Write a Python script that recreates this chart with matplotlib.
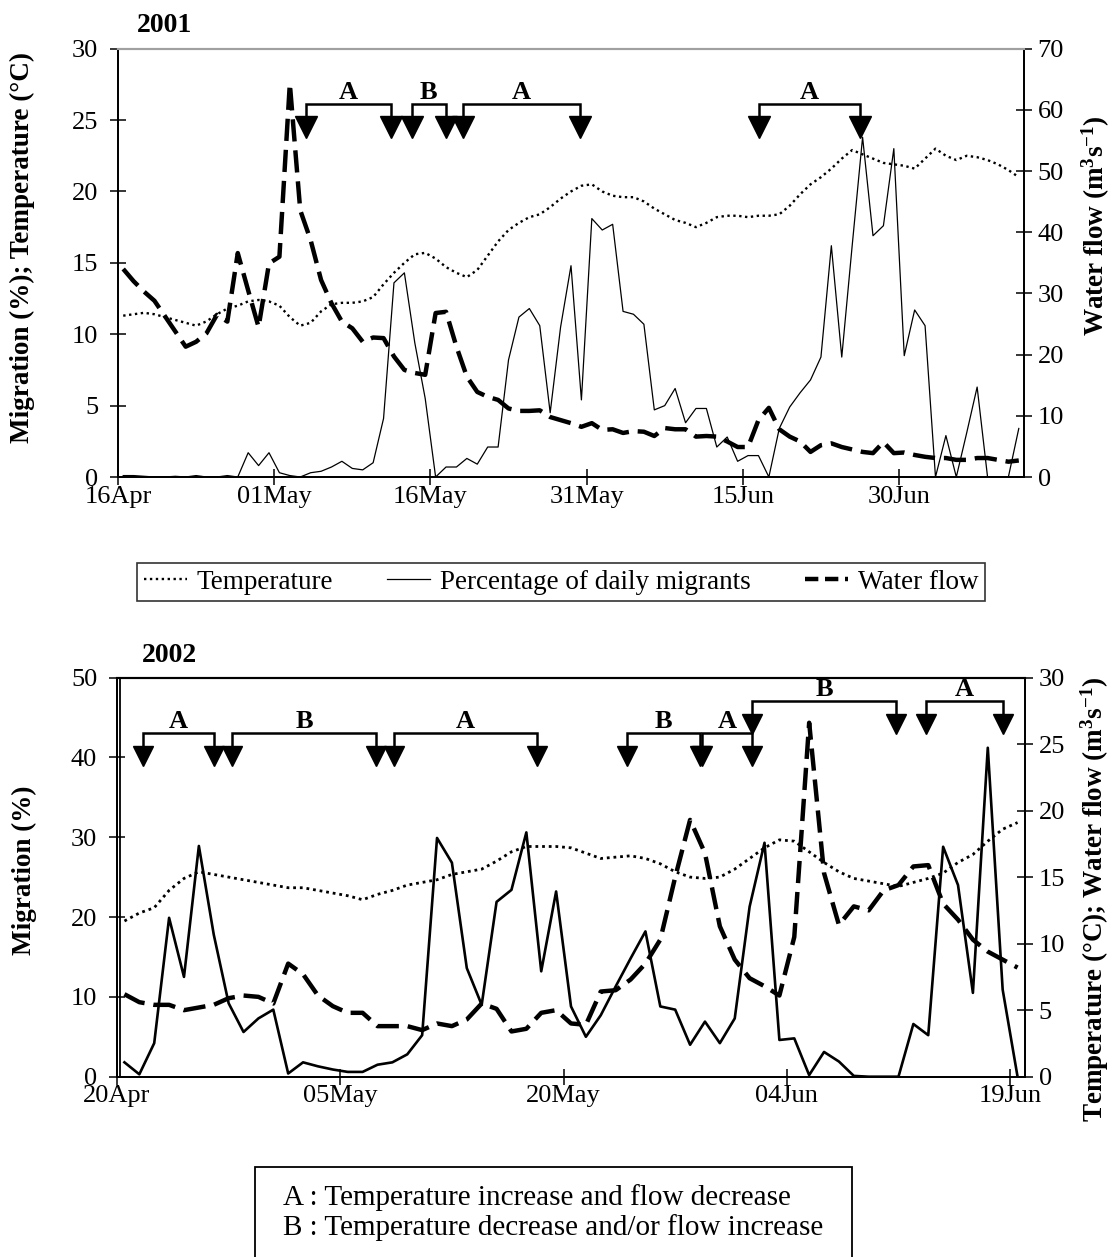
import matplotlib
matplotlib.use("Agg")
import matplotlib.pyplot as plt
from matplotlib.lines import Line2D
from matplotlib.patches import Rectangle
import numpy as np

plt.rcParams['font.family'] = ['Liberation Serif', 'DejaVu Serif']
plt.rcParams['mathtext.fontset'] = 'custom'
plt.rcParams['mathtext.rm'] = 'Liberation Serif'
plt.rcParams['mathtext.bf'] = 'Liberation Serif:bold'
plt.rcParams['mathtext.it'] = 'Liberation Serif:italic'

# ---------------- 2001 (daily, 16 Apr - 11 Jul) ----------------
temp_2001 = [11.3, 11.4, 11.5, 11.4, 11.2, 11.0, 10.8, 10.6, 10.9, 11.4,
             11.8, 12.0, 12.3, 12.4, 12.3, 12.0, 11.2, 10.6, 10.8, 11.6,
             12.1, 12.2, 12.2, 12.3, 12.6, 13.5, 14.3, 15.0, 15.6, 15.7,
             15.3, 14.7, 14.3, 14.0, 14.5, 15.5, 16.5, 17.3, 17.8, 18.2,
             18.4, 18.9, 19.5, 20.0, 20.4, 20.5, 20.0, 19.7, 19.6, 19.6,
             19.3, 18.8, 18.4, 18.0, 17.8, 17.5, 17.8, 18.2, 18.3, 18.3,
             18.2, 18.3, 18.3, 18.4, 19.0, 19.8, 20.5, 21.0, 21.6, 22.3,
             22.9, 22.6, 22.3, 22.0, 21.9, 21.8, 21.6, 22.3, 23.0, 22.5,
             22.2, 22.5, 22.4, 22.2, 21.9, 21.5, 21.0]
migr_2001 = [0.1, 0.1, 0.05, 0.0, 0.0, 0.05, 0.0, 0.1, 0.0, 0.0,
             0.1, 0.0, 1.7, 0.8, 1.7, 0.3, 0.1, 0.0, 0.3, 0.4,
             0.7, 1.1, 0.6, 0.5, 1.0, 4.1, 13.6, 14.3, 9.4, 5.5,
             0.0, 0.7, 0.7, 1.3, 0.9, 2.1, 2.1, 8.2, 11.2, 11.8,
             10.6, 4.5, 10.5, 14.8, 5.4, 18.1, 17.3, 17.7, 11.6, 11.4,
             10.7, 4.7, 5.0, 6.2, 3.8, 4.8, 4.8, 2.1, 2.8, 1.1,
             1.5, 1.5, 0.0, 3.4, 4.9, 5.9, 6.8, 8.4, 16.2, 8.4,
             16.2, 23.8, 16.9, 17.6, 23.0, 8.5, 11.7, 10.6, 0.0, 2.9,
             0.0, 3.1, 6.3, 0.0, 0.0, 0.0, 3.4]
flow_2001 = [34.0, 32.0, 30.3, 28.8, 26.3, 23.8, 21.3, 22.1, 23.5, 26.5,
             25.4, 36.6, 30.5, 24.5, 34.9, 36.0, 64.3, 43.6, 38.7, 32.2,
             28.4, 25.4, 24.3, 22.1, 22.8, 22.7, 19.7, 17.5, 17.0, 16.7,
             26.8, 27.0, 21.3, 16.4, 13.9, 13.1, 12.6, 11.2, 10.8, 10.8,
             10.9, 9.8, 9.3, 8.8, 8.2, 8.8, 7.7, 7.8, 7.2, 7.5,
             7.4, 6.7, 8.0, 7.8, 7.8, 6.6, 6.7, 6.6, 5.8, 4.9,
             4.9, 9.3, 11.3, 7.8, 6.6, 5.8, 4.1, 5.2, 5.5, 4.9,
             4.5, 4.1, 3.9, 5.7, 3.9, 4.0, 3.6, 3.3, 3.1, 3.1,
             2.8, 2.8, 3.1, 3.1, 2.8, 2.5, 2.7]
tick_pos_2001 = [0, 15, 30, 45, 60, 75]
tick_lab_2001 = ["16Apr", "01May", "16May", "31May", "15Jun", "30Jun"]
per_lab_2001 = ["A", "B", "A", "A"]
per_start_2001 = [18.1, 28.2, 33.1, 61.55]
per_end_2001 = [26.2, 31.45, 44.4, 71.25]

# ---------------- 2002 (daily, 20 Apr - 19 Jun) ----------------
temp_2002 = [11.7, 12.3, 12.7, 14.0, 14.9, 15.4, 15.2, 15.0, 14.8, 14.6,
             14.4, 14.2, 14.2, 14.0, 13.8, 13.6, 13.3, 13.7, 14.0, 14.4,
             14.6, 14.8, 15.2, 15.4, 15.6, 16.2, 16.9, 17.3, 17.3, 17.3,
             17.2, 16.8, 16.4, 16.5, 16.6, 16.4, 16.0, 15.4, 15.0, 14.9,
             15.0, 15.6, 16.4, 17.2, 17.8, 17.7, 16.9, 16.1, 15.4, 14.9,
             14.7, 14.5, 14.3, 14.6, 14.9, 15.3, 16.1, 16.7, 17.7, 18.6, 19.1]
migr_2002 = [1.8, 0.3, 4.2, 19.9, 12.5, 28.9, 17.8, 9.2, 5.6, 7.3,
             8.4, 0.4, 1.8, 1.3, 0.9, 0.6, 0.6, 1.5, 1.8, 2.8,
             5.2, 29.9, 26.8, 13.6, 9.0, 21.9, 23.4, 30.6, 13.2, 23.2,
             8.8, 5.0, 7.7, 11.3, 14.8, 18.2, 8.8, 8.4, 4.0, 6.9,
             4.2, 7.3, 21.3, 29.3, 4.6, 4.8, 0.2, 3.1, 1.9, 0.1,
             0.0, 0.0, 0.0, 6.6, 5.2, 28.8, 24.0, 10.5, 41.2, 10.9, 0.0]
flow_2002 = [6.2, 5.6, 5.4, 5.4, 5.0, 5.2, 5.4, 5.9, 6.1, 6.0,
             5.5, 8.5, 7.7, 6.1, 5.3, 4.8, 4.8, 3.8, 3.8, 3.8,
             3.5, 4.0, 3.8, 4.3, 5.5, 5.1, 3.4, 3.6, 4.8, 5.0,
             4.0, 3.9, 6.4, 6.5, 7.3, 8.5, 10.3, 15.0, 19.3, 16.8,
             11.3, 8.8, 7.4, 6.8, 6.1, 10.5, 26.6, 15.3, 11.4, 12.8,
             12.5, 14.0, 14.4, 15.8, 15.9, 13.0, 11.8, 10.3, 9.4, 8.8, 8.2]
tick_pos_2002 = [0, 15, 30, 45, 60]
tick_lab_2002 = ["20Apr", "05May", "20May", "04Jun", "19Jun"]
per_lab_2002 = ["A", "B", "A", "B", "A", "B", "A"]
per_start_2002 = [1.73, 7.75, 18.58, 34.23, 39.3, 42.68, 54.34]
per_end_2002 = [6.54, 17.42, 28.22, 39.16, 42.68, 52.32, 59.54]
per_row_2002 = [0, 0, 0, 0, 0, 1, 1]   # 0 = lower row, 1 = upper row

W, H = 1116, 1257
fig = plt.figure(figsize=(W / 100, H / 100), dpi=100)

TICKFS = 19
LABFS = 19.5
PERFS = 19


def style_axes(ax, axr, xlim, ylim, ylim_r, yticks, yticks_r, tpos, tlab, topcolor):
    ax.set_xlim(*xlim)
    ax.set_ylim(*ylim)
    axr.set_ylim(*ylim_r)
    ax.set_yticks(yticks)
    axr.set_yticks(yticks_r)
    ax.set_xticks(tpos)
    ax.set_xticklabels(tlab)
    ax.tick_params(axis='both', direction='inout', length=11.5, width=1.1,
                   labelsize=TICKFS, colors='black')
    ax.tick_params(axis='x', pad=0.5)
    ax.tick_params(axis='y', pad=8.5)
    axr.tick_params(axis='y', direction='inout', length=11.5, width=1.1,
                    labelsize=TICKFS, pad=4.0)
    for a in (ax, axr):
        for s in ('left', 'right', 'bottom'):
            a.spines[s].set_color('black')
            a.spines[s].set_linewidth(1.3)
        a.spines['top'].set_color(topcolor)
        a.spines['top'].set_linewidth(1.5)


def draw_periods(ax, labels, starts, ends, ybar, ytri, ms, fs):
    for lab, s, e in zip(labels, starts, ends):
        ax.plot([s, s, e, e], [ytri, ybar, ybar, ytri], color='black', lw=1.8,
                solid_joinstyle='miter', solid_capstyle='butt', zorder=5)
        ax.plot([s, e], [ytri, ytri], linestyle='none', marker='v', ms=ms,
                color='black', mec='black', zorder=6)
        ax.text((s + e) / 2, ybar, lab, ha='center', va='bottom',
                fontsize=fs, fontweight='bold', zorder=6)


# ---------------- top panel ----------------
ax1 = fig.add_axes([118 / W, 1 - 477 / H, (1024 - 118) / W, (477 - 48.7) / H])
ax1r = ax1.twinx()
x1 = np.arange(len(temp_2001)) + 0.5
ax1.plot(x1, temp_2001, color='black', lw=1.7, linestyle=(0, (1, 1.5)))
ax1.plot(x1, migr_2001, color='black', lw=0.9)
ax1r.plot(x1, flow_2001, color='black', lw=3.2, dashes=(5, 2), dash_capstyle='butt')
style_axes(ax1, ax1r, (0, 87), (0, 30), (0, 70), range(0, 31, 5),
           range(0, 71, 10), tick_pos_2001, tick_lab_2001, '#a0a0a0')
draw_periods(ax1, per_lab_2001, per_start_2001, per_end_2001,
             ybar=26.15, ytri=24.5, ms=16, fs=PERFS)
ax1.set_ylabel('Migration (%); Temperature (°C)', fontsize=LABFS, fontweight='bold')
ax1.yaxis.set_label_coords(-0.092, 0.537)
ax1r.set_ylabel(r'Water flow (m$^{\mathbf{3}}$s$^{\mathbf{-1}}$)', fontsize=LABFS,
                fontweight='bold')
ax1r.yaxis.set_label_coords(1.061, 0.588)
fig.text(164 / W, 1 - 32 / H, '2001', ha='center', va='baseline', fontsize=20,
         fontweight='bold')

leg_handles = [Line2D([], [], color='black', lw=1.7, linestyle=(0, (1, 1.5))),
               Line2D([], [], color='black', lw=0.9),
               Line2D([], [], color='black', lw=3.2, dashes=(3, 1.5))]
leg = fig.legend(leg_handles, ['Temperature', 'Percentage of daily migrants', 'Water flow'],
                 loc='center', bbox_to_anchor=(561 / W, 1 - 582 / H), ncol=3,
                 frameon=True, fancybox=False, edgecolor='black', fontsize=19.5,
                 handlelength=1.6, handletextpad=0.35, columnspacing=2.0,
                 borderpad=0.25, borderaxespad=0.0)
leg.get_frame().set_linewidth(1.2)

# ---------------- bottom panel ----------------
ax2 = fig.add_axes([117 / W, 1 - 1076.7 / H, 908 / W, (1076.7 - 677.5) / H])
ax2r = ax2.twinx()
x2 = np.arange(len(temp_2002)) + 0.5
ax2r.plot(x2, temp_2002, color='black', lw=2.0, linestyle=(0, (1, 1.4)))
ax2.plot(x2, migr_2002, color='black', lw=1.9)
ax2r.plot(x2, flow_2002, color='black', lw=3.2, dashes=(5, 2), dash_capstyle='butt')
style_axes(ax2, ax2r, (0, 61), (0, 50), (0, 30), range(0, 51, 10),
           range(0, 31, 5), tick_pos_2002, tick_lab_2002, 'black')
ax2.add_line(Line2D([0.003, 0.003], [0, 1], transform=ax2.transAxes,
                    color='black', lw=1.3))
lows = [i for i, r in enumerate(per_row_2002) if r == 0]
ups = [i for i, r in enumerate(per_row_2002) if r == 1]
draw_periods(ax2, [per_lab_2002[i] for i in lows], [per_start_2002[i] for i in lows],
             [per_end_2002[i] for i in lows], ybar=43.0, ytri=40.15, ms=15, fs=PERFS)
draw_periods(ax2, [per_lab_2002[i] for i in ups], [per_start_2002[i] for i in ups],
             [per_end_2002[i] for i in ups], ybar=47.0, ytri=44.2, ms=15, fs=PERFS)
ax2.set_ylabel('Migration (%)', fontsize=LABFS, fontweight='bold')
ax2.yaxis.set_label_coords(-0.088, 0.518)
ax2r.set_ylabel(r'Temperature (°C); Water flow (m$^{\mathbf{3}}$s$^{\mathbf{-1}}$)',
                fontsize=LABFS, fontweight='bold')
ax2r.yaxis.set_label_coords(1.059, 0.445)
fig.text(169 / W, 1 - 662 / H, '2002', ha='center', va='baseline', fontsize=20,
         fontweight='bold')

# explanation box
fig.add_artist(Rectangle((255 / W, -0.01), 597 / W, (1 - 1166.7 / H) + 0.01,
                         transform=fig.transFigure, fill=False, ec='black', lw=1.3))
fig.text(283 / W, 1 - 1205 / H, 'A : Temperature increase and flow decrease',
         ha='left', va='baseline', fontsize=21)
fig.text(283 / W, 1 - 1235 / H, 'B : Temperature decrease and/or flow increase',
         ha='left', va='baseline', fontsize=21)

fig.savefig('out.png', dpi=100)
